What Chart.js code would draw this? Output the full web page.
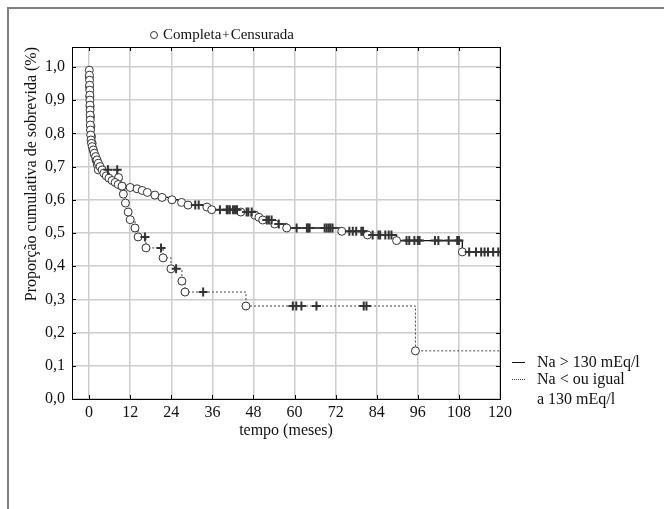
<!DOCTYPE html>
<html><head><meta charset="utf-8">
<script src="https://cdn.jsdelivr.net/npm/chart.js@4/dist/chart.umd.min.js"></script>
<style>
html,body{margin:0;padding:0;background:#fff;}
#wrap{position:relative;width:664px;height:509px;overflow:hidden;font-family:"Liberation Serif",serif;color:#111;}
#frame{position:absolute;left:7px;top:7px;width:700px;height:600px;border-left:2px solid #808080;border-top:2px solid #808080;}
canvas{position:absolute;left:0;top:0;}
.t{position:absolute;white-space:nowrap;font-size:16px;line-height:16px;}
.sym{display:inline-block;width:6px;height:6px;border:1px solid #333;border-radius:50%;vertical-align:middle;margin-right:5px;position:relative;top:-1px;}
</style></head>
<body><div id="wrap">
<div id="frame"></div>
<canvas id="c" width="664" height="509"></canvas>
<div class="t" style="left:150px;top:26px;font-size:15px;"><span class="sym"></span>Completa<span style="margin:0 1px;font-size:13px;">+</span>Censurada</div>
<div style="position:absolute;left:512px;top:362px;width:13px;border-top:1px solid #111;"></div>
<div style="position:absolute;left:512px;top:379px;width:13px;border-top:1px dotted #444;"></div>
<div class="t" style="left:537px;top:354px;">Na &gt; 130 mEq/l</div>
<div class="t" style="left:537px;top:371px;">Na &lt; ou igual</div>
<div class="t" style="left:537px;top:391px;">a 130 mEq/l</div>
</div>
<script>
const xTicks = [0, 12, 24, 36, 48, 60, 72, 84, 96, 108, 120];
const yTicks = [0, 0.1, 0.2, 0.3, 0.4, 0.5, 0.6, 0.7, 0.8, 0.9, 1.0];

// Na > 130 mEq/l (solid)
const solidEventTimes = [0.05,0.1,0.12,0.15,0.18,0.2,0.22,0.25,0.28,0.3,0.33,0.36,0.4,0.45,0.55,0.7,0.9,1.2,1.5,1.9,2.3,2.7,3.2,3.8,4.3,5.0,5.8,6.7,7.6,8.5,9.6,12,14,15.5,17,19.2,21.3,24.2,27,28.9,34.4,35.8,44.3,48.4,49.6,50.7,54.2,57.7,73.8,81.3,89.8,109];
const solidEventSurv = [0.99,0.975,0.96,0.945,0.93,0.915,0.90,0.885,0.87,0.855,0.84,0.825,0.81,0.795,0.78,0.77,0.76,0.75,0.74,0.73,0.72,0.71,0.70,0.69,0.68,0.672,0.665,0.658,0.652,0.646,0.641,0.637,0.633,0.628,0.622,0.614,0.607,0.600,0.592,0.584,0.578,0.570,0.563,0.554,0.547,0.539,0.527,0.515,0.505,0.494,0.477,0.443];
const solidCensorTimes = [31,32,38.2,40.2,40.5,41.1,42,42.6,43.2,46,46.5,47.5,51.9,52.5,53.3,55.4,60.6,63.6,64,64.4,68.8,69.4,70,70.5,71.1,76,77,78,79.5,80,82.8,84.5,85,86.5,87.5,88.3,92.7,93.5,95,96,96.5,101,102,105,107.5,108,111,113,114.5,115.5,116.5,118,119.5];
const solidEndTime = 120;

// Na < ou igual a 130 mEq/l (dotted)
const dottedEventTimes = [0.05,0.1,0.2,0.3,0.4,0.5,0.7,0.9,1.2,1.6,2.0,2.4,2.7,8.6,9.6,10.0,10.6,11.4,12.0,13.4,14.3,16.6,21.6,23.9,27.1,28.0,45.8,95.3];
const dottedEventSurv = [0.97,0.94,0.91,0.88,0.85,0.82,0.79,0.77,0.75,0.735,0.72,0.705,0.69,0.667,0.640,0.617,0.59,0.563,0.54,0.515,0.488,0.455,0.425,0.392,0.355,0.322,0.28,0.145];
const dottedCensorTimes = [5.5,8.2,16.3,21.0,25.4,33.3,59.5,60.5,62,66.4,80.2,81];
const dottedEndTime = 120;

function levelAt(times, surv, t) {
  let v = 1;
  for (let i = 0; i < times.length; i++) { if (times[i] <= t) v = surv[i]; }
  return v;
}
function stepData(times, surv, end) {
  const d = [{x: 0, y: 1}];
  times.forEach((t, i) => d.push({x: t, y: surv[i]}));
  d.push({x: end, y: surv[surv.length - 1]});
  return d;
}
function eventPts(times, surv) { return times.map((t, i) => ({x: t, y: surv[i]})); }
function censorPts(ct, times, surv) { return ct.map(t => ({x: t, y: levelAt(times, surv, t)})); }

const FONT = '"Liberation Serif", serif';
const circleStyle = {type: 'scatter', pointStyle: 'circle', pointRadius: 4, pointBackgroundColor: '#fff', pointBorderColor: '#333', pointBorderWidth: 1, showLine: false, order: 1};
const crossStyle = {type: 'scatter', pointStyle: 'cross', pointRadius: 4.5, pointBorderColor: '#333', pointBorderWidth: 2, showLine: false, order: 0};

const frameTicks = {
  id: 'frameTicks',
  afterDatasetsDraw(chart) {
    const {ctx, chartArea: a, scales: {x, y}} = chart;
    ctx.save();
    ctx.strokeStyle = '#000';
    ctx.lineWidth = 1;
    ctx.beginPath();
    xTicks.forEach(v => { const px = Math.round(x.getPixelForValue(v)) + 0.5; ctx.moveTo(px, a.bottom); ctx.lineTo(px, a.bottom - 4); ctx.moveTo(px, a.top); ctx.lineTo(px, a.top + 4); });
    yTicks.forEach(v => { const py = Math.round(y.getPixelForValue(v)) + 0.5; ctx.moveTo(a.left, py); ctx.lineTo(a.left + 4, py); ctx.moveTo(a.right, py); ctx.lineTo(a.right - 4, py); });
    ctx.stroke();
    ctx.strokeRect(Math.round(a.left) + 0.5, Math.round(a.top) + 0.5, Math.round(a.right - a.left), Math.round(a.bottom - a.top));
    ctx.restore();
  }
};

new Chart(document.getElementById('c'), {
  data: {
    datasets: [
      Object.assign({label: 'solidCensor', data: censorPts(solidCensorTimes, solidEventTimes, solidEventSurv)}, crossStyle),
      Object.assign({label: 'dottedCensor', data: censorPts(dottedCensorTimes, dottedEventTimes, dottedEventSurv)}, crossStyle),
      Object.assign({label: 'solidEvents', data: eventPts(solidEventTimes, solidEventSurv)}, circleStyle),
      Object.assign({label: 'dottedEvents', data: eventPts(dottedEventTimes, dottedEventSurv)}, circleStyle),
      {type: 'line', label: 'Na > 130 mEq/l', data: stepData(solidEventTimes, solidEventSurv, solidEndTime), stepped: 'before', borderColor: '#111', borderWidth: 1.3, pointRadius: 0, fill: false, order: 2},
      {type: 'line', label: 'Na < ou igual a 130 mEq/l', data: stepData(dottedEventTimes, dottedEventSurv, dottedEndTime), stepped: 'before', borderColor: '#444', borderWidth: 1, borderDash: [2, 2], pointRadius: 0, fill: false, order: 2}
    ]
  },
  options: {
    responsive: false, animation: false, devicePixelRatio: 1,
    layout: {padding: {left: 14, top: 47, right: 164, bottom: 65}},
    plugins: {legend: {display: false}, tooltip: {enabled: false}},
    scales: {
      x: {
        type: 'linear', min: -5, max: 120,
        afterBuildTicks: s => { s.ticks = xTicks.map(v => ({value: v})); },
        afterFit: s => { s.height = 45; },
        grid: {color: '#cdcdcd', lineWidth: 1.5, drawTicks: false},
        border: {color: '#000', width: 1},
        ticks: {padding: 4, color: '#111', font: {family: FONT, size: 16}, maxRotation: 0, callback: v => String(v)},
        title: {display: true, text: 'tempo (meses)', color: '#111', font: {family: FONT, size: 16}, padding: {top: 4, bottom: 4}}
      },
      y: {
        type: 'linear', min: 0, max: 1.06,
        afterBuildTicks: s => { s.ticks = yTicks.map(v => ({value: v})); },
        afterFit: s => { s.width = 58; },
        grid: {color: '#cdcdcd', lineWidth: 1.5, drawTicks: false},
        border: {color: '#000', width: 1},
        ticks: {padding: 7, color: '#111', font: {family: FONT, size: 16}, callback: v => v.toFixed(1).replace('.', ',')},
        title: {display: true, text: 'Proporção cumulativa de sobrevida (%)', align: 'end', color: '#111', font: {family: FONT, size: 16}, padding: {top: 8, bottom: 0}}
      }
    }
  },
  plugins: [frameTicks]
});
</script>
</body></html>
